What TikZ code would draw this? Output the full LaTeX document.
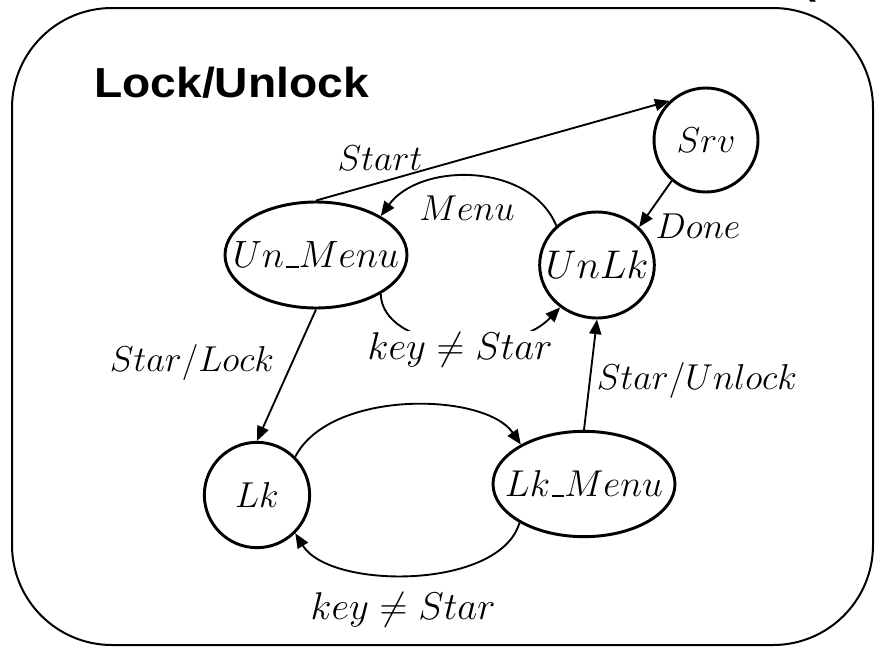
\RequirePackage{fix-cm}
\documentclass[tikz,border=0pt]{standalone}
\usepackage{fontspec}
\usetikzlibrary{arrows.meta,shapes.geometric}
\newfontfamily\titlefont{Liberation Sans}
\newcommand\usc{\mathord{\kern.06em\vbox{\hrule width .32em height .05em}}}
\newcommand\ztext[1]{\makebox[0pt]{#1}}
\begin{document}
\begin{tikzpicture}[x=0.75pt,y=-0.75pt,
  state/.style={draw, ellipse, line width=2.2pt, inner sep=0pt,
    font=\fontsize{27}{32}\selectfont},
  lbl/.style={inner sep=1pt, font=\fontsize{27}{32}\selectfont},
  edge/.style={line width=1.4pt, -{Triangle[length=11pt,width=9pt]}},
  ttl/.style={font=\titlefont\bfseries\fontsize{31.5}{36}\selectfont}]
\useasboundingbox (0,0) rectangle (875,647);
\draw[line width=1.5pt, rounded corners=75pt] (12,8) rectangle (873,645);
\node[ttl, anchor=base west, inner sep=0pt] (title) at (94,97) {\scalebox{1.1}[1]{Lock/Unlock}};
\node[ttl, anchor=base west, inner sep=0pt] (paren) at (802,-7) {(};
% states
\node[state, minimum width=78pt, minimum height=78pt] (Srv) at (706,140) {\ztext{$Srv$}};
\node[state, minimum width=86pt, minimum height=79.5pt, font=\fontsize{30}{36}\selectfont] (UnLk) at (597,265) {\ztext{$UnLk$}};
\node[state, minimum width=136.5pt, minimum height=79.5pt, font=\fontsize{28.5}{34}\selectfont] (UnMenu) at (316,255) {\ztext{$Un\usc Menu$}};
\node[state, minimum width=79pt, minimum height=79pt] (Lk) at (257,495) {\ztext{$Lk$}};
\node[state, minimum width=136.5pt, minimum height=79pt, font=\fontsize{28}{34}\selectfont] (LkMenu) at (584,484) {\ztext{$Lk\usc Menu$}};
% edges
\draw[edge] (UnMenu.north) -- (Srv.133);
\node[lbl] (lStart) at (380,158) {$Start$};
\draw[edge] (UnLk.136) .. controls (530,162) and (420,162) .. (UnMenu.31);
\node[lbl] (lMenu) at (467,208) {$Menu$};
\draw[edge] (Srv.230) -- (UnLk.42);
\node[lbl] (lDone) at (698,226) {$Done$};
\draw[edge] (UnMenu.-31) .. controls (382,350) and (510,360) .. (UnLk.229);
\node[lbl, fill=white, font=\fontsize{29}{34}\selectfont] (lKey1) at (460,350) {$key \neq Star$};
\draw[edge] (UnMenu.south) -- (Lk.north);
\node[lbl] (lLock) at (192,362) {$Star/Lock$};
\draw[edge] (LkMenu.north) -- (UnLk.south);
\node[lbl] (lUnlock) at (697,380) {$Star/Unlock$};
\draw[edge] (Lk.45) .. controls (330,389) and (485,392) .. (LkMenu.148);
\draw[edge] (LkMenu.211) .. controls (500,590) and (330,590) .. (Lk.-45);
\node[lbl, font=\fontsize{29}{34}\selectfont] (lKey2) at (403,610) {$key \neq Star$};
\end{tikzpicture}
\end{document}
